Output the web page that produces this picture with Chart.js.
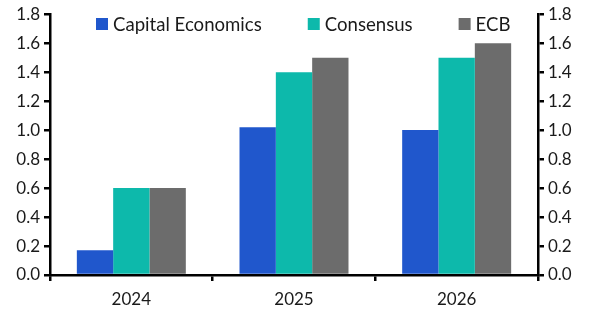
<!DOCTYPE html>
<html>
<head>
<meta charset="utf-8">
<script src="https://cdn.jsdelivr.net/npm/chart.js@4"></script>
<style>
  html, body { margin: 0; padding: 0; background: #fff; }
  #wrap { width: 591px; height: 331px; }
</style>
</head>
<body>
<div id="wrap"><canvas id="chart"></canvas></div>
<script>
const years = ['2024', '2025', '2026'];
const capitalEconomics = [0.17, 1.02, 1.0];
const consensus = [0.6, 1.4, 1.5];
const ecb = [0.6, 1.5, 1.6];
const yTicks = [0, 0.2, 0.4, 0.6, 0.8, 1.0, 1.2, 1.4, 1.6, 1.8];

const fontFamily = 'Lato, "Open Sans", sans-serif';
const font = { family: fontFamily, size: 17 };

// legend drawn inside the plot, along the top
const topLegend = {
    id: 'topLegend',
    afterDraw(chart) {
        const ctx = chart.ctx;
        ctx.save();
        ctx.font = '18.6px ' + fontFamily;
        ctx.textBaseline = 'middle';
        let x = 96;
        const y = 24;
        chart.data.datasets.forEach(ds => {
            ctx.fillStyle = ds.backgroundColor;
            ctx.fillRect(x, y - 6, 12, 12);
            ctx.fillStyle = '#1a1a1a';
            ctx.fillText(ds.label, x + 17, y + 1);
            x += 17 + ctx.measureText(ds.label).width + 46;
        });
        ctx.restore();
    }
};

function yAxis(position) {
    return {
        position: position,
        min: 0,
        max: 1.8,
        afterBuildTicks: axis => { axis.ticks = yTicks.map(v => ({ value: v })); },
        afterFit: axis => { axis.width = position === 'left' ? 50 : 53; },
        border: { color: '#000', width: 2.5 },
        grid: { drawOnChartArea: false, color: '#000', lineWidth: 2.5, tickLength: 6 },
        ticks: { color: '#1a1a1a', font: font, padding: 4, callback: v => Number(v).toFixed(1) }
    };
}

new Chart(document.getElementById('chart').getContext('2d'), {
    type: 'bar',
    data: {
        labels: years,
        datasets: [
            { label: 'Capital Economics', data: capitalEconomics, backgroundColor: '#2057CC' },
            { label: 'Consensus', data: consensus, backgroundColor: '#0DB9AB' },
            { label: 'ECB', data: ecb, backgroundColor: '#6C6C6C' }
        ]
    },
    options: {
        responsive: true,
        maintainAspectRatio: false,
        animation: false,
        categoryPercentage: 0.67,
        barPercentage: 1,
        layout: { padding: { top: 7, bottom: 0, left: 0, right: 0 } },
        scales: {
            x: {
                afterFit: axis => { axis.height = 56; },
                border: { color: '#000', width: 2.5 },
                grid: { drawOnChartArea: false, color: '#000', lineWidth: 2.5, tickLength: 6 },
                ticks: { color: '#1a1a1a', font: font, padding: 8 }
            },
            y: yAxis('left'),
            y2: yAxis('right')
        },
        plugins: {
            legend: { display: false },
            tooltip: { enabled: false }
        }
    },
    plugins: [topLegend]
});
</script>
</body>
</html>
